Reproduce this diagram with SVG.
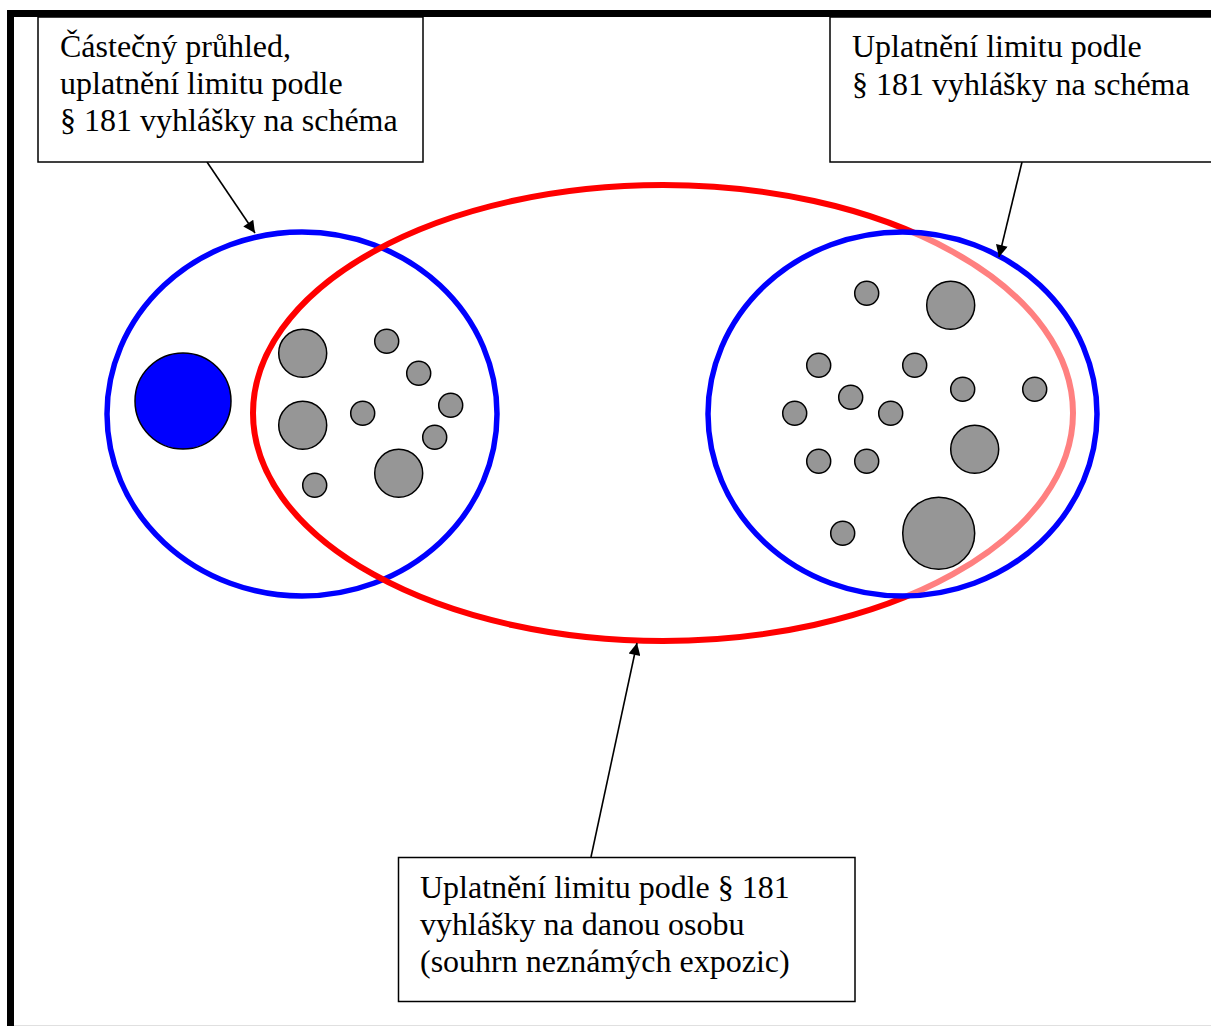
<svg xmlns="http://www.w3.org/2000/svg" width="1211" height="1026" viewBox="0 0 1211 1026">
<defs>
<style>
.box{fill:#fff;stroke:#000;stroke-width:1.5}
.t{font-family:"Liberation Serif","Times New Roman",serif;font-size:32px;fill:#000}
.g{fill:#969696;stroke:#000;stroke-width:1.5}
.conn{stroke:#000;stroke-width:1.6;fill:none;marker-end:url(#ah)}
</style>
<marker id="ah" viewBox="0 0 10 10" refX="10" refY="5" markerWidth="15" markerHeight="12" markerUnits="userSpaceOnUse" orient="auto">
<path d="M0,0 L10,5 L0,10 z" fill="#000"/>
</marker>
</defs>
<rect width="1211" height="1026" fill="#fff"/>
<g id="frame">
<rect x="7" y="10" width="1210" height="7" fill="#000"/>
<rect x="7" y="10" width="7" height="1016" fill="#000"/>
<line x1="14" y1="1025.5" x2="1211" y2="1025.5" stroke="#e0e0e0" stroke-width="1"/>
</g>
<g id="left-ellipse">
<ellipse cx="302" cy="414" rx="195" ry="182" fill="none" stroke="#0000ff" stroke-width="5.5"/>
</g>
<g id="red-ellipse">
<ellipse cx="663" cy="413" rx="410" ry="228" fill="none" stroke="#ff0000" stroke-width="6"/>
</g>
<g id="right-ellipse">
<ellipse cx="902.5" cy="414" rx="194.5" ry="182" fill="#fff" fill-opacity="0.5" stroke="#0000ff" stroke-width="5.5"/>
</g>
<g id="left-dots">
<circle cx="183" cy="401" r="48" fill="#0000ff" stroke="#000" stroke-width="1.5"/>
<circle class="g" cx="302.7" cy="353.3" r="24"/>
<circle class="g" cx="302.7" cy="425.3" r="24"/>
<circle class="g" cx="314.7" cy="485.3" r="12"/>
<circle class="g" cx="386.7" cy="341.3" r="12"/>
<circle class="g" cx="418.7" cy="373.3" r="12"/>
<circle class="g" cx="450.7" cy="405.3" r="12"/>
<circle class="g" cx="362.7" cy="413.3" r="12"/>
<circle class="g" cx="434.7" cy="437.3" r="12"/>
<circle class="g" cx="398.7" cy="473.3" r="24"/>
</g>
<g id="right-dots">
<circle class="g" cx="866.7" cy="293.3" r="12"/>
<circle class="g" cx="950.7" cy="305.3" r="24"/>
<circle class="g" cx="818.7" cy="365.3" r="12"/>
<circle class="g" cx="914.7" cy="365.3" r="12"/>
<circle class="g" cx="962.7" cy="389.3" r="12"/>
<circle class="g" cx="1034.7" cy="389.3" r="12"/>
<circle class="g" cx="850.7" cy="397.3" r="12"/>
<circle class="g" cx="794.7" cy="413.3" r="12"/>
<circle class="g" cx="890.7" cy="413.3" r="12"/>
<circle class="g" cx="974.7" cy="449.3" r="24"/>
<circle class="g" cx="818.7" cy="461.3" r="12"/>
<circle class="g" cx="866.7" cy="461.3" r="12"/>
<circle class="g" cx="842.7" cy="533.3" r="12"/>
<circle class="g" cx="938.7" cy="533.3" r="36"/>
</g>
<g id="connectors">
<line class="conn" x1="207" y1="162" x2="255" y2="233"/>
<line class="conn" x1="1022" y1="162" x2="999" y2="257"/>
<line class="conn" x1="591" y1="857" x2="637" y2="643"/>
</g>
<g id="box-left">
<rect class="box" x="38" y="17" width="385" height="145"/>
<text class="t" x="60" y="57">Částečný průhled,</text>
<text class="t" x="60" y="94">uplatnění limitu podle</text>
<text class="t" x="60" y="131">§ 181 vyhlášky na schéma</text>
</g>
<g id="box-right">
<rect class="box" x="830" y="17" width="400" height="145"/>
<text class="t" x="852" y="57">Uplatnění limitu podle</text>
<text class="t" x="852" y="95">§ 181 vyhlášky na schéma</text>
</g>
<g id="box-bottom">
<rect class="box" x="398.5" y="857.5" width="456.5" height="144"/>
<text class="t" x="420" y="898">Uplatnění limitu podle § 181</text>
<text class="t" x="420" y="935">vyhlášky na danou osobu</text>
<text class="t" x="420" y="972">(souhrn neznámých expozic)</text>
</g>
</svg>
